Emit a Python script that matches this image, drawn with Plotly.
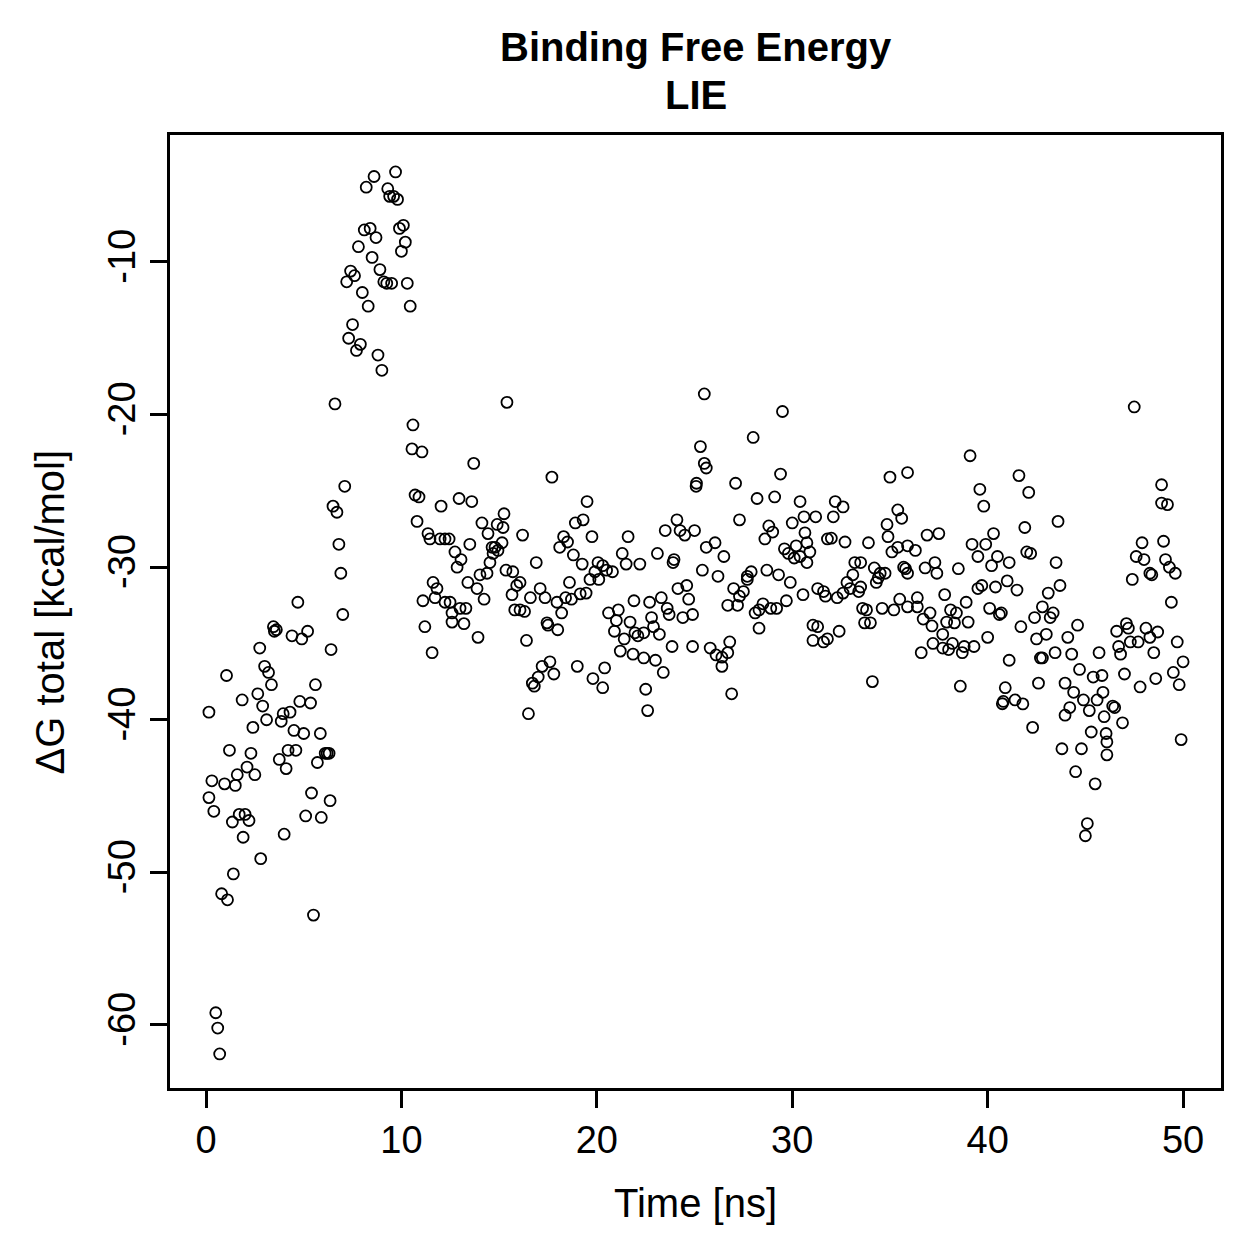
import plotly.graph_objects as go

# Time [ns] and ΔG total [kcal/mol]
time_ns = [
    0.15, 0.15, 0.3, 0.4, 0.5, 0.6, 0.7, 0.8, 0.95, 1.05, 1.1, 1.2, 1.35, 1.4, 1.5, 1.6, 1.7, 1.85, 1.9, 2.0,
    2.1, 2.2, 2.3, 2.4, 2.5, 2.65, 2.75, 2.8, 2.9, 3.0, 3.1, 3.2, 3.35, 3.45, 3.5, 3.6, 3.75, 3.85, 3.95, 4.0,
    4.1, 4.2, 4.3, 4.4, 4.5, 4.6, 4.7, 4.8, 4.9, 5.0, 5.1, 5.2, 5.35, 5.4, 5.5, 5.6, 5.7, 5.85, 5.9, 6.1,
    6.2, 6.3, 6.35, 6.4, 6.5, 6.6, 6.7, 6.8, 6.9, 7.0, 7.1, 7.2, 7.3, 7.4, 7.5, 7.6, 7.7, 7.8, 7.9, 8.0,
    8.1, 8.2, 8.3, 8.4, 8.5, 8.6, 8.7, 8.8, 8.9, 9.0, 9.1, 9.25, 9.3, 9.4, 9.5, 9.6, 9.7, 9.8, 9.9, 10.0,
    10.1, 10.2, 10.3, 10.45,
    10.54, 10.59, 10.7, 10.8, 10.9, 11.05, 11.1, 11.2, 11.36, 11.46, 11.57, 11.62, 11.72, 11.82, 11.98, 12.03,
    12.23, 12.23, 12.44, 12.49, 12.59, 12.59, 12.74, 12.85, 12.95, 13.0, 13.05, 13.2, 13.3, 13.4, 13.5, 13.6,
    13.7, 13.87, 13.92, 14.02, 14.12, 14.23, 14.38, 14.43, 14.53, 14.64, 14.69, 14.79, 14.9, 14.94, 15.15, 15.2,
    15.25, 15.35, 15.4,
    15.66, 15.7, 15.8, 15.9, 16.07, 16.07, 16.2, 16.3, 16.4, 16.5, 16.6, 16.7, 16.8, 16.9, 17.0, 17.1,
    17.2, 17.35, 17.45, 17.5, 17.6, 17.7, 17.8, 17.96, 18.0, 18.1, 18.2, 18.3, 18.4, 18.5, 18.6, 18.7,
    18.8, 18.9, 19.0, 19.15, 19.25, 19.3, 19.45, 19.5, 19.65, 19.75, 19.8, 19.9, 20.06, 20.1, 20.3, 20.3,
    20.4, 20.5, 20.6,
    20.8, 20.9, 21.0, 21.1, 21.2, 21.3, 21.4, 21.5, 21.6, 21.7, 21.85, 21.9, 21.95, 22.1, 22.2, 22.4,
    22.4, 22.5, 22.6, 22.7, 22.8, 22.9, 23.0, 23.1, 23.2, 23.3, 23.4, 23.5, 23.6, 23.7, 23.85, 23.9,
    23.95, 24.1, 24.15, 24.26, 24.4, 24.5, 24.6, 24.7, 24.9, 24.9, 25.0, 25.08, 25.1, 25.3, 25.4, 25.5,
    25.5, 25.6, 25.6, 25.8,
    26.05, 26.1, 26.2, 26.4, 26.4, 26.5, 26.7, 26.7, 26.8, 26.9, 27.0, 27.1, 27.2, 27.3, 27.3, 27.5,
    27.7, 27.7, 27.9, 28.0, 28.1, 28.2, 28.3, 28.3, 28.5, 28.6, 28.7, 28.8, 28.9, 29.0, 29.1, 29.2,
    29.3, 29.4, 29.5, 29.6, 29.7, 29.8, 29.9, 30.0, 30.1, 30.2, 30.4, 30.4, 30.55, 30.6, 30.65, 30.75,
    30.75,
    30.9, 31.06, 31.06, 31.2, 31.3, 31.3, 31.6, 31.6, 31.7, 31.8, 31.8, 32.0, 32.1, 32.2, 32.3, 32.4,
    32.6, 32.6, 32.7, 32.8, 32.96, 33.1, 33.2, 33.4, 33.5, 33.5, 33.6, 33.7, 33.8, 33.9, 34.0, 34.1,
    34.2, 34.3, 34.4, 34.5, 34.6, 34.75, 34.85, 34.9, 35.0, 35.1, 35.2, 35.4, 35.4, 35.5, 35.6, 35.7,
    35.8, 35.9, 35.9, 35.9, 35.9,
    36.3, 36.4, 36.4, 36.6, 36.7, 36.8, 36.9, 37.05, 37.15, 37.2, 37.3, 37.4, 37.5, 37.7, 37.7, 37.8,
    37.9, 38.0, 38.1, 38.2, 38.3, 38.4, 38.5, 38.6, 38.7, 38.8, 38.9, 39.0, 39.1, 39.2, 39.3, 39.5,
    39.5, 39.6, 39.7, 39.8, 39.9, 40.0, 40.1, 40.2, 40.3, 40.4, 40.5, 40.6, 40.7, 40.8, 40.9, 40.75,
    41.0, 41.1, 41.1,
    41.4, 41.5, 41.6, 41.7, 41.8, 41.9, 42.0, 42.1, 42.2, 42.3, 42.4, 42.5, 42.6, 42.7, 42.8, 42.8,
    43.0, 43.1, 43.2, 43.35, 43.45, 43.5, 43.6, 43.7, 43.8, 43.96, 43.96, 44.1, 44.2, 44.3, 44.4, 44.5,
    44.6, 44.7, 44.8, 44.9, 45.0, 45.1, 45.2, 45.3, 45.4, 45.5, 45.6, 45.7, 45.85, 45.9, 45.96, 46.06,
    46.1, 46.1,
    46.4, 46.5, 46.6, 46.7, 46.8, 46.9, 47.0, 47.1, 47.2, 47.3, 47.4, 47.5, 47.6, 47.7, 47.8, 47.9,
    48.0, 48.1, 48.3, 48.3, 48.4, 48.5, 48.6, 48.7, 48.9, 48.9, 49.0, 49.1, 49.2, 49.3, 49.4, 49.5,
    49.6, 49.7, 49.8, 49.9, 50.0,
]

dg_total = [
    -39.5, -45.1, -44.0, -46.0, -59.2, -60.2, -61.9, -51.4, -44.2, -37.1, -51.8, -42.0, -46.7, -50.1, -44.3, -43.6, -46.2, -38.7, -47.7, -46.2,
    -43.1, -46.6, -42.2, -40.5, -43.6, -38.3, -35.3, -49.1, -39.1, -36.5, -40.0, -36.9, -37.7, -33.9, -34.2, -34.1, -42.6, -40.1, -39.6, -47.5,
    -43.2, -42.0, -39.5, -34.5, -40.7, -42.0, -32.3, -38.8, -34.7, -40.9, -46.3, -34.2, -38.9, -44.8, -52.8, -37.7, -42.8, -40.9, -46.4, -42.2,
    -42.2, -42.2, -45.3, -35.4, -26.0, -19.3, -26.4, -28.5, -30.4, -33.1, -24.7, -11.3, -15.0, -10.6, -14.1, -10.9, -15.8, -9.0, -15.4, -12.0,
    -7.9, -5.1, -12.9, -7.8, -9.7, -4.4, -8.4, -16.1, -10.5, -17.1, -11.3, -11.4, -5.2, -5.7, -11.4, -5.7, -4.1, -5.9, -7.8, -9.3,
    -7.6, -8.7, -11.4, -12.9,
    -22.25, -20.68, -25.27, -27.0, -25.4, -22.45, -32.2, -33.9, -27.8, -28.15, -35.6, -31.0, -32.0, -31.4, -28.15, -26.0,
    -28.15, -32.3, -28.15, -32.3, -33.0, -33.6, -29.0, -30.0, -25.5, -32.7, -29.5, -33.7, -32.7, -31.0, -28.5, -25.7,
    -23.2, -31.4, -34.6, -30.5, -27.1, -32.1, -30.4, -27.8, -29.7, -28.7, -29.1, -28.7, -27.2, -28.9, -28.4, -27.4,
    -26.5, -30.2, -19.2,
    -31.8, -30.3, -32.8, -31.2, -31.0, -32.8, -27.9, -32.9, -34.8, -39.6, -32.0, -37.6, -37.8, -29.7, -37.2, -31.4,
    -36.5, -32.0, -33.65, -33.8, -36.2, -24.1, -37.0, -32.3, -34.1, -28.7, -33.0, -28.0, -32.0, -28.35, -31.0, -32.1,
    -29.2, -27.1, -36.5, -31.75, -29.8, -26.9, -31.7, -25.7, -30.8, -28.0, -37.3, -30.3, -29.7, -30.8, -29.9, -37.9,
    -36.6, -30.2, -33.0,
    -30.3, -34.2, -33.5, -32.8, -35.5, -29.1, -34.7, -29.8, -28.0, -33.6, -35.7, -32.2, -34.3, -34.5, -29.8, -34.3,
    -35.95, -38.0, -39.4, -32.3, -33.3, -33.9, -36.1, -29.1, -34.4, -32.0, -36.9, -27.6, -32.7, -33.1, -35.2, -29.7,
    -29.5, -26.9, -31.4, -27.6, -33.3, -27.9, -31.2, -32.1, -33.1, -35.2, -27.6, -24.7, -24.5, -22.1, -30.2, -18.65,
    -23.2, -23.5, -28.7, -35.3,
    -28.4, -35.75, -30.6, -35.9, -36.5, -29.3, -35.6, -32.5, -34.9, -38.3, -31.4, -24.5, -32.5, -26.9, -31.9, -31.6,
    -30.6, -30.8, -30.3, -21.5, -33.0, -25.5, -32.8, -34.0, -32.4, -28.15, -30.2, -27.3, -32.7, -27.7, -25.4, -32.7,
    -30.5, -23.9, -19.8, -28.8, -32.2, -29.1, -31.0, -27.1, -29.4, -28.6, -25.7, -29.3, -31.8, -26.7, -27.75, -28.4,
    -29.7,
    -29.0, -33.8, -34.8, -26.7, -31.4, -33.9, -31.6, -34.9, -31.9, -28.15, -34.7, -28.1, -26.7, -25.7, -32.0, -34.2,
    -26.05, -31.7, -28.35, -31.0, -31.4, -30.5, -29.7, -31.6, -29.7, -31.3, -32.7, -33.65, -32.8, -28.4, -33.65, -37.5,
    -30.05, -31.0, -30.7, -30.4, -32.7, -30.4, -27.2, -28.0, -24.1, -29.0, -32.8, -26.25, -28.7, -32.1, -26.8, -30.0,
    -30.1, -23.8, -28.6, -30.4, -32.6,
    -28.9, -32.0, -32.6, -35.6, -33.4, -30.05, -27.9, -33.0, -33.85, -35.0, -29.7, -30.4, -27.8, -34.4, -35.3, -31.8,
    -33.6, -35.4, -32.8, -35.0, -33.65, -33.0, -30.1, -37.8, -35.6, -35.2, -32.3, -33.6, -22.7, -28.5, -35.2, -29.3,
    -31.4, -24.9, -31.2, -26.0, -28.5, -34.6, -32.7, -29.9, -27.8, -31.3, -29.3, -33.1, -33.0, -38.8, -37.9, -38.95,
    -30.9, -29.7, -36.1,
    -38.7, -31.5, -24.0, -33.9, -38.96, -27.4, -29.0, -25.1, -29.1, -40.5, -33.3, -34.7, -37.6, -35.95, -35.95, -32.6,
    -34.4, -31.7, -33.3, -33.0, -35.6, -29.7, -27.0, -31.2, -41.9, -37.6, -39.7, -34.6, -39.2, -35.7, -38.2, -43.4,
    -33.8, -36.7, -41.9, -38.7, -47.6, -46.8, -39.4, -40.8, -37.2, -44.2, -38.7, -35.6, -37.1, -38.2, -39.8, -40.9,
    -41.45, -42.3,
    -39.1, -39.2, -34.2, -35.2, -35.7, -40.2, -37.0, -33.7, -34.0, -34.9, -30.8, -19.5, -29.3, -34.9, -37.85, -28.4,
    -29.5, -34.0, -30.4, -34.6, -30.5, -35.6, -37.3, -34.25, -24.6, -25.8, -28.3, -29.5, -25.9, -30.0, -32.3, -36.9,
    -30.4, -34.9, -37.7, -41.3, -36.2,
]

x_ticks = [0, 10, 20, 30, 40, 50]
y_ticks = [-60, -50, -40, -30, -20, -10]

FONT = "Liberation Sans, Arial, Helvetica, sans-serif"

fig = go.Figure()
fig.add_trace(go.Scatter(
    x=time_ns, y=dg_total, mode="markers",
    marker=dict(symbol="circle-open", size=11, color="black", line=dict(width=1.8, color="black")),
    showlegend=False, hoverinfo="x+y",
))

axis_common = dict(
    showline=True, mirror=True, linecolor="black", linewidth=2.5,
    ticks="outside", ticklen=17, tickwidth=2.5, tickcolor="black",
    showgrid=False, zeroline=False,
    tickfont=dict(family=FONT, size=38, color="black"),
)

fig.update_layout(
    width=1259, height=1259,
    margin=dict(l=170, r=38, t=135, b=171),
    paper_bgcolor="white", plot_bgcolor="white",
    font=dict(family=FONT, color="black"),
    xaxis=dict(range=[-1.842, 51.94], tickvals=x_ticks, ticktext=[str(v) for v in x_ticks], **axis_common),
    yaxis=dict(range=[-64.13, -1.68], tickvals=y_ticks, ticktext=[str(v) for v in y_ticks], tickangle=-90, **axis_common),
    annotations=[
        dict(text="<b>Binding Free Energy</b>", x=0.5, y=1.0923, xref="paper", yref="paper",
             showarrow=False, xanchor="center", yanchor="middle", font=dict(family=FONT, size=40, color="black")),
        dict(text="<b>LIE</b>", x=0.5, y=1.042, xref="paper", yref="paper",
             showarrow=False, xanchor="center", yanchor="middle", font=dict(family=FONT, size=40, color="black")),
        dict(text="Time [ns]", x=0.5, y=-0.1207, xref="paper", yref="paper",
             showarrow=False, xanchor="center", yanchor="middle", font=dict(family=FONT, size=40, color="black")),
        dict(text="ΔG total [kcal/mol]", x=-0.1142, y=0.5, xref="paper", yref="paper", textangle=-90,
             showarrow=False, xanchor="center", yanchor="middle", font=dict(family=FONT, size=40, color="black")),
    ],
)

fig.write_html("out.html")
